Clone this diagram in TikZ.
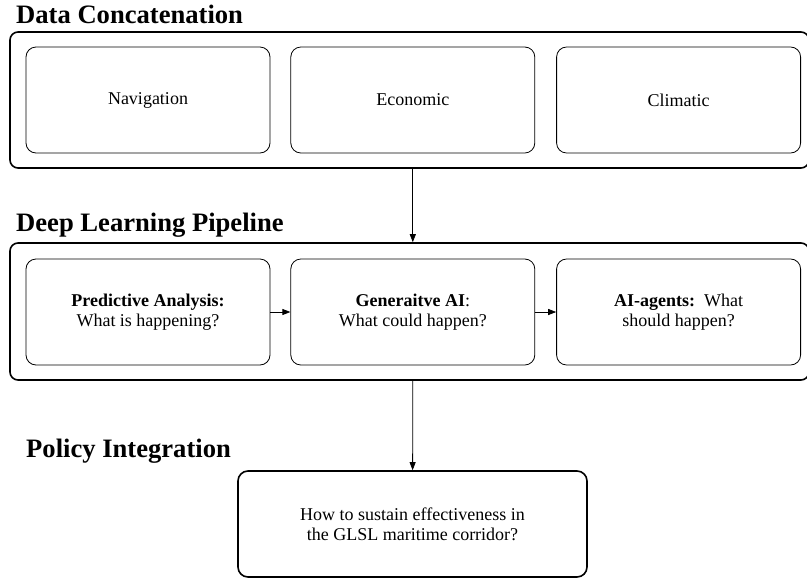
\documentclass[tikz,border=0pt]{standalone}
\usepackage{fontspec}
\setmainfont{Liberation Serif}
\usepackage{tikz}
\usetikzlibrary{arrows.meta,positioning}
\definecolor{ink}{HTML}{000000}
\tikzset{
  stagetitle/.style={
    anchor=base west, inner sep=0pt,
    font=\bfseries\fontsize{26.6}{30}\selectfont
  },
  stageframe/.style={
    draw=ink, line width=1.6pt, rounded corners=8pt,
    minimum width=799pt, inner sep=0pt
  },
  itemcard/.style={
    draw=ink, line width=0.8pt, rounded corners=10pt,
    minimum width=244pt, minimum height=106pt,
    align=center, inner sep=4pt,
    font=\fontsize{18}{20}\selectfont
  },
  goalcard/.style={itemcard, line width=1.6pt, minimum width=349pt},
  flow/.style={draw=ink, line width=0.8pt, -{Triangle[length=8pt,width=6pt]}}
}
\begin{document}
\begin{tikzpicture}[x=1pt,y=-1pt]
  \useasboundingbox (0,0) rectangle (807,579);
  % data sources
  \node[stagetitle] (datattl) at (16,23) {Data Concatenation};
  \node[stageframe, minimum height=136pt] (datafrm) at (409.5,100) {};
  \node[itemcard] (navig) at (148,100) {Navigation};
  \node[itemcard, right=20pt of navig] (econ) {Economic};
  \node[itemcard, right=21pt of econ] (climat) {Climatic};
  % learning stages
  \node[stagetitle] (pipettl) at (16,231) {Deep Learning Pipeline};
  \node[stageframe, minimum height=137pt] (pipefrm) at (409.5,311.5) {};
  \node[itemcard] (predict) at (148,312) {\textbf{Predictive Analysis:}\\What is happening?};
  \node[itemcard, right=20pt of predict] (genai) {\textbf{Generaitve AI}:\\What could happen?};
  \node[itemcard, right=21pt of genai] (agents) {\textbf{AI-agents:}\ \ What\\should happen?};
  \draw[flow] (predict) -- (genai);
  \draw[flow] (genai) -- (agents);
  % policy
  \node[stagetitle] (polttl) at (26,457) {Policy Integration};
  \node[goalcard] (goal) at (412.5,524) {How to sustain effectiveness in\\the GLSL maritime corridor?};
  \draw[flow] (econ |- datafrm.south) -- (econ |- pipefrm.north);
  \draw[flow] (genai |- pipefrm.south) -- (goal);
\end{tikzpicture}
\end{document}
